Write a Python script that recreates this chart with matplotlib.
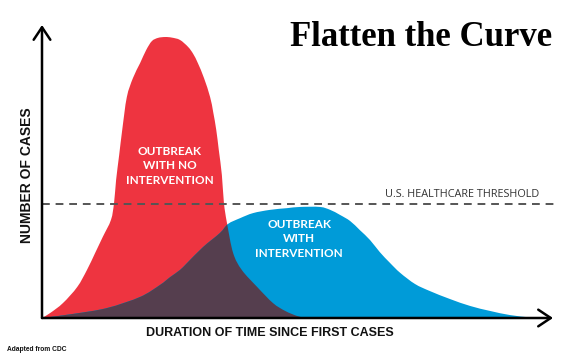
import matplotlib
matplotlib.use("Agg")
import matplotlib.pyplot as plt
from matplotlib.path import Path
from matplotlib.patches import PathPatch

# ---- data (time units 0..100, cases units 0..100) ----
red_t = [0, 1.6, 4.1, 6.9, 8.8, 10.4, 11.9, 13.5, 14.1, 14.5, 15.1, 15.7, 16.6, 17.8,
         19.2, 20.4, 21.5, 22.7, 24.1, 25.4, 27.0, 28.6, 29.6, 30.5, 31.7, 32.9, 33.5,
         34.1, 34.6, 35.2, 35.6, 36.2, 37.4, 39.1, 42.1, 45.2, 47.6, 49.9, 51.5]
red_c = [0, 1.7, 5.1, 10.6, 16.4, 22.2, 27.7, 33.5, 39.3, 47.1, 55.6, 64.2, 75.4, 81.9,
         87.0, 91.5, 94.5, 95.6, 95.9, 95.7, 94.9, 92.5, 90.1, 87.0, 81.9, 75.4, 70.3,
         64.2, 57.3, 48.8, 39.3, 32.4, 22.2, 16.4, 10.6, 5.1, 2.4, 0.7, 0]

blue_t = [0, 6.1, 12.7, 19.2, 23.1, 25.1, 27.0, 28.4, 31.5, 34.8, 36.4, 38.8, 41.3, 44.6,
          48.0, 50.5, 54.4, 56.4, 58.3, 60.3, 62.2, 64.2, 66.1, 68.1, 70.1, 73.0, 75.9,
          79.8, 83.8, 87.7, 91.6, 95.5, 97.5]
blue_c = [0, 1.4, 3.4, 7.2, 11.3, 14.0, 16.4, 18.8, 24.2, 29.0, 32.1, 34.1, 35.8, 36.9,
          37.5, 37.9, 37.9, 36.9, 35.2, 33.1, 30.0, 26.6, 22.5, 18.8, 15.4, 11.6, 9.2,
          6.5, 4.1, 2.4, 1.0, 0.2, 0]

threshold = 38.9

RED = "#EE3440"
BLUE = "#009BD8"
PURPLE = "#553E4E"


def smooth_area_path(xs, ys):
    """Closed area path whose top edge is a Catmull-Rom Bezier through the points."""
    pts = list(zip(xs, ys))
    n = len(pts)
    verts = [pts[0]]
    codes = [Path.MOVETO]
    for i in range(n - 1):
        p0 = pts[max(i - 1, 0)]
        p1 = pts[i]
        p2 = pts[i + 1]
        p3 = pts[min(i + 2, n - 1)]
        c1 = (p1[0] + (p2[0] - p0[0]) / 6, p1[1] + (p2[1] - p0[1]) / 6)
        c2 = (p2[0] - (p3[0] - p1[0]) / 6, p2[1] - (p3[1] - p1[1]) / 6)
        verts += [c1, c2, p2]
        codes += [Path.CURVE4] * 3
    verts.append(pts[0])
    codes.append(Path.LINETO)
    verts.append(pts[0])
    codes.append(Path.CLOSEPOLY)
    return Path(verts, codes)


W, H = 578, 360
fig = plt.figure(figsize=(W / 100, H / 100), dpi=100)
fig.patch.set_facecolor("white")
ax = fig.add_axes([42 / W, 1 - 318 / H, (553 - 42) / W, (318 - 25) / H])
ax.set_xlim(0, 100)
ax.set_ylim(0, 100)
ax.axis("off")

red_path = smooth_area_path(red_t, red_c)
blue_path = smooth_area_path(blue_t, blue_c)
red_patch = PathPatch(red_path, facecolor=RED, lw=0, zorder=1)
blue_patch = PathPatch(blue_path, facecolor=BLUE, lw=0, zorder=2)
over_patch = PathPatch(red_path, facecolor=PURPLE, lw=0, zorder=3)
ax.add_patch(red_patch)
ax.add_patch(blue_patch)
ax.add_patch(over_patch)
over_patch.set_clip_path(blue_patch)

# threshold
ax.plot([0, 100.6], [threshold, threshold], color="#555555", lw=1.4,
        dashes=(4, 3), zorder=4, clip_on=False)
ax.text(97.4, 42.0, "U.S. HEALTHCARE THRESHOLD", ha="right", va="center",
        fontsize=7.8, family="Open Sans", color="#333333", zorder=5)

# axes arrows
arrow_kw = dict(arrowstyle="->,head_length=0.45,head_width=0.3", lw=1.8,
                color="black", shrinkA=0, shrinkB=0, mutation_scale=20)
ax.annotate("", xy=(1.0, 0), xytext=(0, 0), xycoords="axes fraction",
            arrowprops=arrow_kw, zorder=6)
ax.annotate("", xy=(0, 1.0), xytext=(0, 0), xycoords="axes fraction",
            arrowprops=arrow_kw, zorder=6)

# curve labels
ax.text(25.0, 51.9, "OUTBREAK\nWITH NO\nINTERVENTION", ha="center", va="center",
        color="white", fontsize=8.5, family="Lato", fontweight="bold",
        linespacing=1.4, zorder=7)
ax.text(50.3, 27.0, "OUTBREAK\nWITH\nINTERVENTION", ha="center", va="center",
        color="white", fontsize=8.5, family="Lato", fontweight="bold",
        linespacing=1.4, zorder=7)

# figure texts
def px(x, y):
    return x / W, 1 - y / H

fig.text(*px(421, 37), "Flatten the Curve", ha="center", va="center",
         fontsize=25, family="Liberation Serif", fontweight="bold", color="black")
fig.text(*px(27, 175), "NUMBER OF CASES", ha="center", va="center", rotation=90,
         fontsize=10, family="Liberation Sans", fontweight="bold", color="#111111")
fig.text(*px(270, 333.5), "DURATION OF TIME SINCE FIRST CASES", ha="center",
         va="center", fontsize=9, family="Liberation Sans", fontweight="bold",
         color="#111111")
fig.text(*px(7, 349.5), "Adapted from CDC", ha="left", va="center",
         fontsize=4.8, family="Liberation Sans", fontweight="bold", color="#111111")

fig.savefig("out.png", dpi=100, facecolor="white")
